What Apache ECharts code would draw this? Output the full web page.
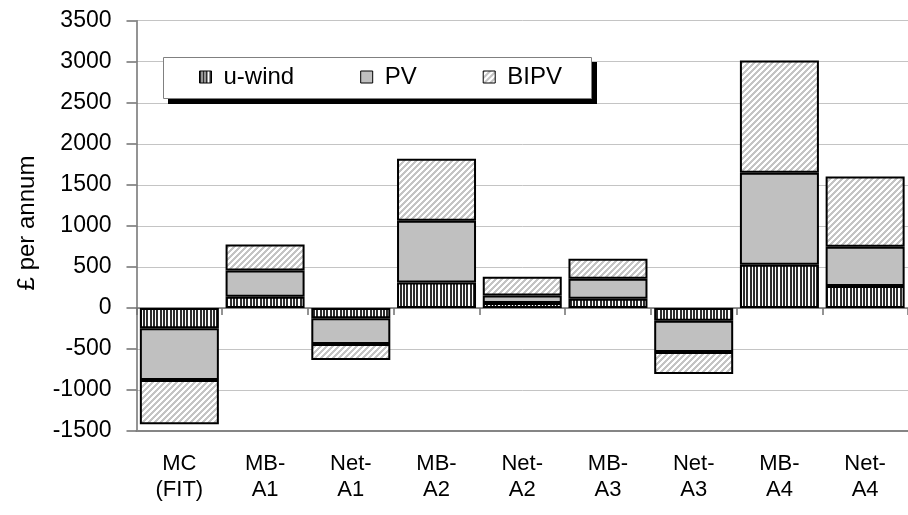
<!DOCTYPE html>
<html>
<head>
<meta charset="utf-8">
<script src="https://cdn.jsdelivr.net/npm/echarts@6/dist/echarts.min.js"></script>
<style>
html,body{margin:0;padding:0;background:#fff;}
#chart{width:908px;height:515px;}
</style>
</head>
<body>
<div id="chart"></div>
<script>
const categories = ['MC\n(FIT)', 'MB-\nA1', 'Net-\nA1', 'MB-\nA2', 'Net-\nA2', 'MB-\nA3', 'Net-\nA3', 'MB-\nA4', 'Net-\nA4'];
const seriesNames = ['u-wind', 'PV', 'BIPV'];
const uWind = [-248, 136, -126, 311, 59, 112, -156, 526, 266];
const pv    = [-630, 321, -313, 752, 93, 244, -382, 1121, 480];
const bipv  = [-540, 317, -195, 755, 228, 244, -268, 1369, 856];
const yTicks = { min: -1500, max: 3500, step: 500 };
const yTitle = '£ per annum';

const FONT = '"Liberation Sans", Arial, sans-serif';

function makePattern(w, h, draw) {
  const c = document.createElement('canvas');
  c.width = w; c.height = h;
  const ctx = c.getContext('2d');
  ctx.fillStyle = '#ffffff';
  ctx.fillRect(0, 0, w, h);
  draw(ctx);
  return { image: c, repeat: 'repeat' };
}
// vertical stripes
const windFill = makePattern(10, 4, ctx => {
  ctx.fillStyle = '#2e2e2e';
  ctx.fillRect(0, 0, 2, 4);
  ctx.fillRect(3, 0, 2, 4);
  ctx.fillRect(6, 0, 2, 4);
});
// diagonal hatch "/"
const bipvFill = makePattern(6, 6, ctx => {
  ctx.fillStyle = '#c4c4c4';
  for (let y = 0; y < 6; y++) {
    const x0 = 5 - y;
    for (let k = 0; k < 3; k++) ctx.fillRect((x0 + k) % 6, y, 1, 1);
  }
});
const fills = [windFill, '#c0c0c0', bipvFill];
const values = [uWind, pv, bipv];

const chart = echarts.init(document.getElementById('chart'), null, { renderer: 'canvas' });
chart.setOption({
  animation: false,
  backgroundColor: '#ffffff',
  grid: { left: 136.5, right: -9, top: 20.7, bottom: 84, containLabel: false },
  legend: {
    data: seriesNames,
    left: 163, top: 57,
    orient: 'horizontal',
    icon: 'rect',
    itemWidth: 12, itemHeight: 12,
    itemGap: 66,
    padding: [8, 32, 8, 36],
    z: 5,
    itemStyle: { borderColor: '#000', borderWidth: 1 },
    textStyle: { fontFamily: FONT, fontSize: 24, color: '#000', padding: [0, 0, 0, 7] }
  },
  xAxis: [
    {
      type: 'category',
      data: categories,
      position: 'bottom',
      axisLine: { onZero: false, lineStyle: { color: '#858585', width: 2 } },
      axisTick: { show: false },
      axisLabel: { interval: 0, margin: 20, fontFamily: FONT, fontSize: 22, lineHeight: 26, color: '#000' },
      splitLine: { show: false }
    },
    {
      type: 'category',
      data: categories,
      position: 'bottom',
      axisLine: { onZero: true, lineStyle: { color: '#707070', width: 1.5 } },
      axisTick: { show: true, length: 7, lineStyle: { color: '#707070', width: 1.5 } },
      axisLabel: { show: false },
      splitLine: { show: false }
    }
  ],
  yAxis: {
    type: 'value',
    min: yTicks.min, max: yTicks.max, interval: yTicks.step,
    axisLine: { show: true, lineStyle: { color: '#707070', width: 1.5 } },
    axisTick: { show: true, length: 10, lineStyle: { color: '#707070', width: 1.5 } },
    axisLabel: { margin: 25, fontFamily: FONT, fontSize: 23, color: '#000', formatter: v => String(v) },
    splitLine: { show: true, lineStyle: { color: '#c4c4c4', width: 1 } }
  },
  graphic: [
    {
      type: 'rect', z: 3,
      shape: { x: 168, y: 62, width: 429, height: 42 },
      style: { fill: '#000000' }
    },
    {
      type: 'rect', z: 3,
      shape: { x: 163.5, y: 57.5, width: 428, height: 41 },
      style: { fill: '#ffffff', stroke: '#808080', lineWidth: 1 }
    },
    {
      type: 'text', z: 3,
      x: 27, y: 223,
      rotation: Math.PI / 2,
      style: { text: yTitle, font: '24px ' + FONT, fill: '#000', textAlign: 'center', textVerticalAlign: 'middle' }
    }
  ],
  series: seriesNames.map((name, i) => ({
    name: name,
    type: 'bar',
    stack: 'total',
    xAxisIndex: 0,
    barWidth: 79,
    data: values[i],
    itemStyle: { color: fills[i], borderColor: '#000', borderWidth: 2 }
  }))
});
</script>
</body>
</html>
